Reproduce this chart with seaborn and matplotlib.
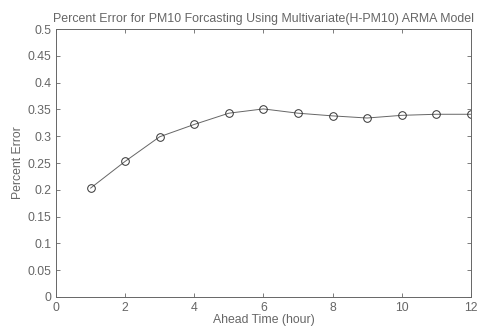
import matplotlib
matplotlib.use("Agg")
import matplotlib.pyplot as plt
import seaborn as sns
import pandas as pd

hours = [1, 2, 3, 4, 5, 6, 7, 8, 9, 10, 11, 12]
percent_error = [0.203, 0.253, 0.299, 0.322, 0.343, 0.351, 0.343, 0.338, 0.334, 0.339, 0.341, 0.341]
x_ticks = [0, 2, 4, 6, 8, 10, 12]
y_ticks = [0, 0.05, 0.1, 0.15, 0.2, 0.25, 0.3, 0.35, 0.4, 0.45, 0.5]
y_labels = ["0", "0.05", "0.1", "0.15", "0.2", "0.25", "0.3", "0.35", "0.4", "0.45", "0.5"]

sns.set_style("white")
plt.rcParams['font.family'] = ['Liberation Sans', 'DejaVu Sans']

df = pd.DataFrame({"hour": hours, "err": percent_error})

fig = plt.figure(figsize=(4.78, 3.27), dpi=100)
ax = fig.add_axes([0.117, 0.092, 0.868, 0.819])
sns.lineplot(data=df, x="hour", y="err", ax=ax, color="#666666", linewidth=0.7,
             marker="o", markersize=5.5, markerfacecolor="none",
             markeredgecolor="#333333", markeredgewidth=0.7)

tc = "#666666"
ax.set_xlim(0, 12)
ax.set_ylim(0, 0.5)
ax.set_xticks(x_ticks)
ax.set_yticks(y_ticks)
ax.set_yticklabels(y_labels)
ax.tick_params(direction="in", length=3, width=0.6, colors=tc, labelsize=8.8,
               top=True, right=True, bottom=True, left=True, labelcolor=tc)
for s in ax.spines.values():
    s.set_color("#666666")
    s.set_linewidth(0.7)
    s.set_visible(True)
ax.set_xlabel("Ahead Time (hour)", fontsize=8.8, color=tc, labelpad=0)
ax.set_ylabel("Percent Error", fontsize=8.8, color=tc, labelpad=2)
ax.set_title("Percent Error for PM10 Forcasting Using Multivariate(H-PM10) ARMA Model",
             fontsize=8.9, color=tc, pad=5)

fig.savefig("out.png", dpi=100)
